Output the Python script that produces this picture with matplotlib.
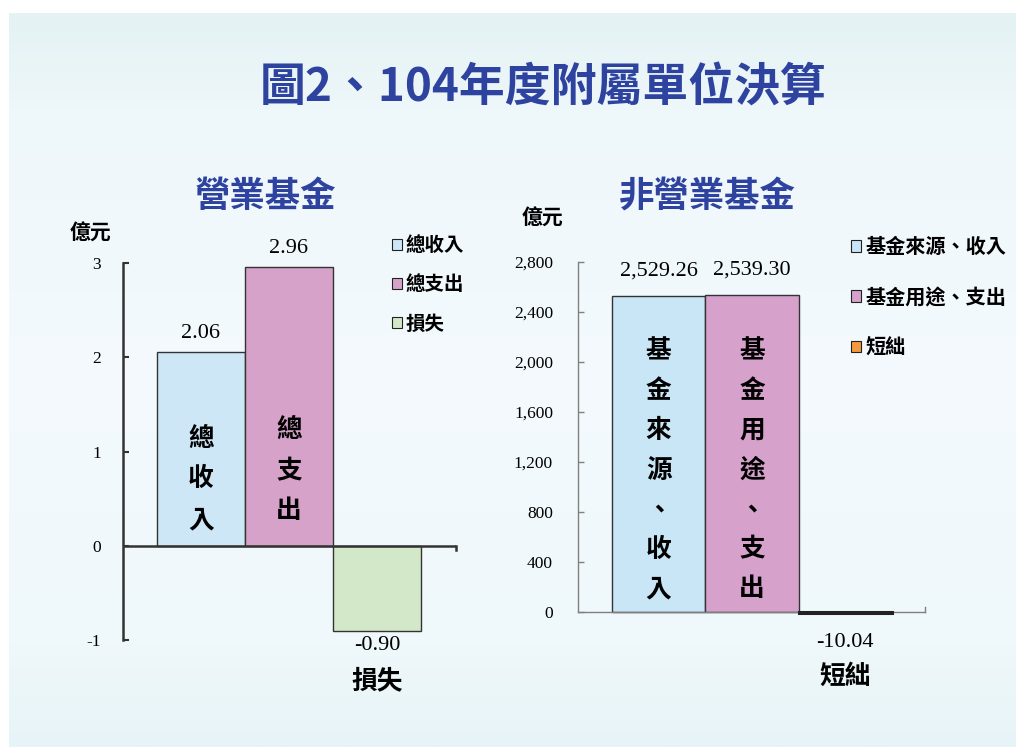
import matplotlib
matplotlib.use("Agg")
import matplotlib.pyplot as plt
import numpy as np
from matplotlib.patches import Patch
from matplotlib.colors import LinearSegmentedColormap

plt.rcParams['font.family'] = ['Noto Sans CJK TC', 'DejaVu Sans']

# ---------------- data ----------------
main_title = "圖2、104年度附屬單位決算"
left_title = "營業基金"
right_title = "非營業基金"
unit_label = "億元"

left_categories = ["總收入", "總支出", "損失"]
left_values = [2.06, 2.96, -0.90]
left_colors = ["#cde7f7", "#d7a2ca", "#d3e8c9"]
left_yticks = [-1, 0, 1, 2, 3]

right_categories = ["基金來源、收入", "基金用途、支出", "短絀"]
right_values = [2529.26, 2539.30, -10.04]
right_colors = ["#c9e6f6", "#d6a1cb", "#f39b3c"]
right_yticks = [0, 400, 800, 1200, 1600, 2000, 2400, 2800]

W, H = 1016, 747
def fx(x): return x / W
def fy(y): return 1 - y / H

BLUE = "#2e43a0"
NUM_FONT = ["Liberation Serif", "DejaVu Serif"]

fig = plt.figure(figsize=(W / 100, H / 100), dpi=100)
fig.patch.set_facecolor("white")

# background gradient panel
bg = fig.add_axes([fx(9), 0, 1 - fx(9), 1 - 13 / H], zorder=-10)
cmap = LinearSegmentedColormap.from_list(
    "bg", [(0.0, "#e4f2f4"), (0.13, "#eef7fa"), (0.5, "#f4fafd"),
           (0.86, "#eff8fb"), (1.0, "#e7f4f7")])
bg.imshow(np.linspace(0, 1, 256).reshape(-1, 1), aspect="auto", cmap=cmap,
          extent=[0, 1, 1, 0])
bg.set_axis_off()

fig.text(fx(543), fy(88), main_title, ha="center", va="center",
         fontsize=33, fontweight="bold", color=BLUE)

# ---------------- left chart ----------------
axL = fig.add_axes([fx(123), fy(640), (456 - 123) / W, (640 - 263) / H])
axL.set_facecolor("none")
xL = np.arange(len(left_values))
axL.bar(xL, left_values, width=1.0, color=left_colors,
        edgecolor="#333333", linewidth=1.0, zorder=2)
axL.set_ylim(-1, 3)
axL.set_xlim(-0.5 - 34 / 88, 2.5 + 35 / 88)
axL.set_yticks(left_yticks)
axL.set_yticklabels([str(v) for v in left_yticks], family=NUM_FONT, fontsize=12.5)
axL.tick_params(axis="y", direction="in", length=4, width=1.5, pad=16,
                color="#333333")
axL.set_xticks([])
for s in ["top", "right", "bottom"]:
    axL.spines[s].set_visible(False)
axL.spines["left"].set_linewidth(1.8)
axL.spines["left"].set_color("#333333")
axL.axhline(0, color="#333333", lw=1.8, zorder=3)
axL.plot([1, 1], [0, -0.04], transform=axL.get_yaxis_transform(),
         color="#333333", lw=1.8, clip_on=False)

for i, v in enumerate(left_values):
    off = 13 if v >= 0 else -11
    axL.annotate(f"{v:.2f}", (xL[i], v), xytext=(0, off), textcoords="offset points",
                 ha="center", va="center", family=NUM_FONT, fontsize=16)

# inside vertical labels
inside_L = [(0, 0.71), (1, 0.80)]
for (i, yv) in inside_L:
    axL.text(xL[i], yv, "\n".join(left_categories[i]), ha="center", va="center",
             fontsize=18.5, fontweight="bold", linespacing=1.65, zorder=4)

axL.annotate(left_categories[2], (xL[2], left_values[2]), xytext=(0, -36),
             textcoords="offset points", ha="center", va="center",
             fontsize=18.5, fontweight="bold")

fig.text(fx(265), fy(197), left_title, ha="center", va="center",
         fontsize=25.5, fontweight="bold", color=BLUE)
fig.text(fx(90), fy(233), unit_label, ha="center", va="center",
         fontsize=15, fontweight="bold")

handlesL = [Patch(facecolor=c, edgecolor="#222222", linewidth=0.8) for c in left_colors]
fig.legend(handlesL, left_categories, loc="upper left",
           bbox_to_anchor=(fx(392), fy(236)), frameon=False,
           prop={"size": 14, "weight": "bold"}, handlelength=0.5,
           handleheight=0.5, handletextpad=0.2, labelspacing=1.05,
           borderaxespad=0, borderpad=0)

# ---------------- right chart ----------------
axR = fig.add_axes([fx(578), fy(612), (925 - 578) / W, (612 - 262) / H])
axR.set_facecolor("none")
xR = np.arange(len(right_values))
axR.bar(xR, right_values, width=1.0, color=right_colors,
        edgecolor="#333333", linewidth=1.0, zorder=2, clip_on=False)
axR.bar(xR[2], right_values[2], width=1.0, color="#222222",
        edgecolor="#222222", linewidth=2.2, zorder=3, clip_on=False)
axR.set_ylim(0, 2800)
axR.set_xlim(-0.5 - 34 / 93.3, 2.5 + 33 / 93.3)
axR.set_yticks(right_yticks)
axR.set_yticklabels([f"{v:,}" for v in right_yticks], family=NUM_FONT, fontsize=12.5)
axR.tick_params(axis="y", direction="in", length=4, width=1, pad=18,
                color="#808080")
axR.set_xticks([])
for s in ["top", "right"]:
    axR.spines[s].set_visible(False)
for s in ["left", "bottom"]:
    axR.spines[s].set_linewidth(1.0)
    axR.spines[s].set_color("#808080")
axR.plot([1, 1], [0, 0.015], transform=axR.transAxes,
         color="#808080", lw=1.0, clip_on=False)

for i, v in enumerate(right_values):
    off = 18 if v >= 0 else -22
    axR.annotate(f"{v:,.2f}", (xR[i], max(v, 0)), xytext=(0, off),
                 textcoords="offset points", ha="center", va="center",
                 family=NUM_FONT, fontsize=16)

for i in range(2):
    axR.text(xR[i], 1136, "\n".join(right_categories[i]), ha="center",
             va="center", fontsize=18.5, fontweight="bold", linespacing=1.6,
             zorder=4)

axR.annotate(right_categories[2], (xR[2], 0), xytext=(0, -46),
             textcoords="offset points", ha="center", va="center",
             fontsize=18.5, fontweight="bold")

fig.text(fx(707), fy(197), right_title, ha="center", va="center",
         fontsize=25.5, fontweight="bold", color=BLUE)
fig.text(fx(543), fy(218), unit_label, ha="center", va="center",
         fontsize=15, fontweight="bold")

handlesR = [Patch(facecolor=c, edgecolor="#222222", linewidth=0.8) for c in right_colors]
fig.legend(handlesR, right_categories, loc="upper left",
           bbox_to_anchor=(fx(851), fy(236)), frameon=False,
           prop={"size": 14.5, "weight": "bold"}, handlelength=0.5,
           handleheight=0.5, handletextpad=0.2, labelspacing=1.45,
           borderaxespad=0, borderpad=0)

fig.savefig("out.png", dpi=100, facecolor="white")
